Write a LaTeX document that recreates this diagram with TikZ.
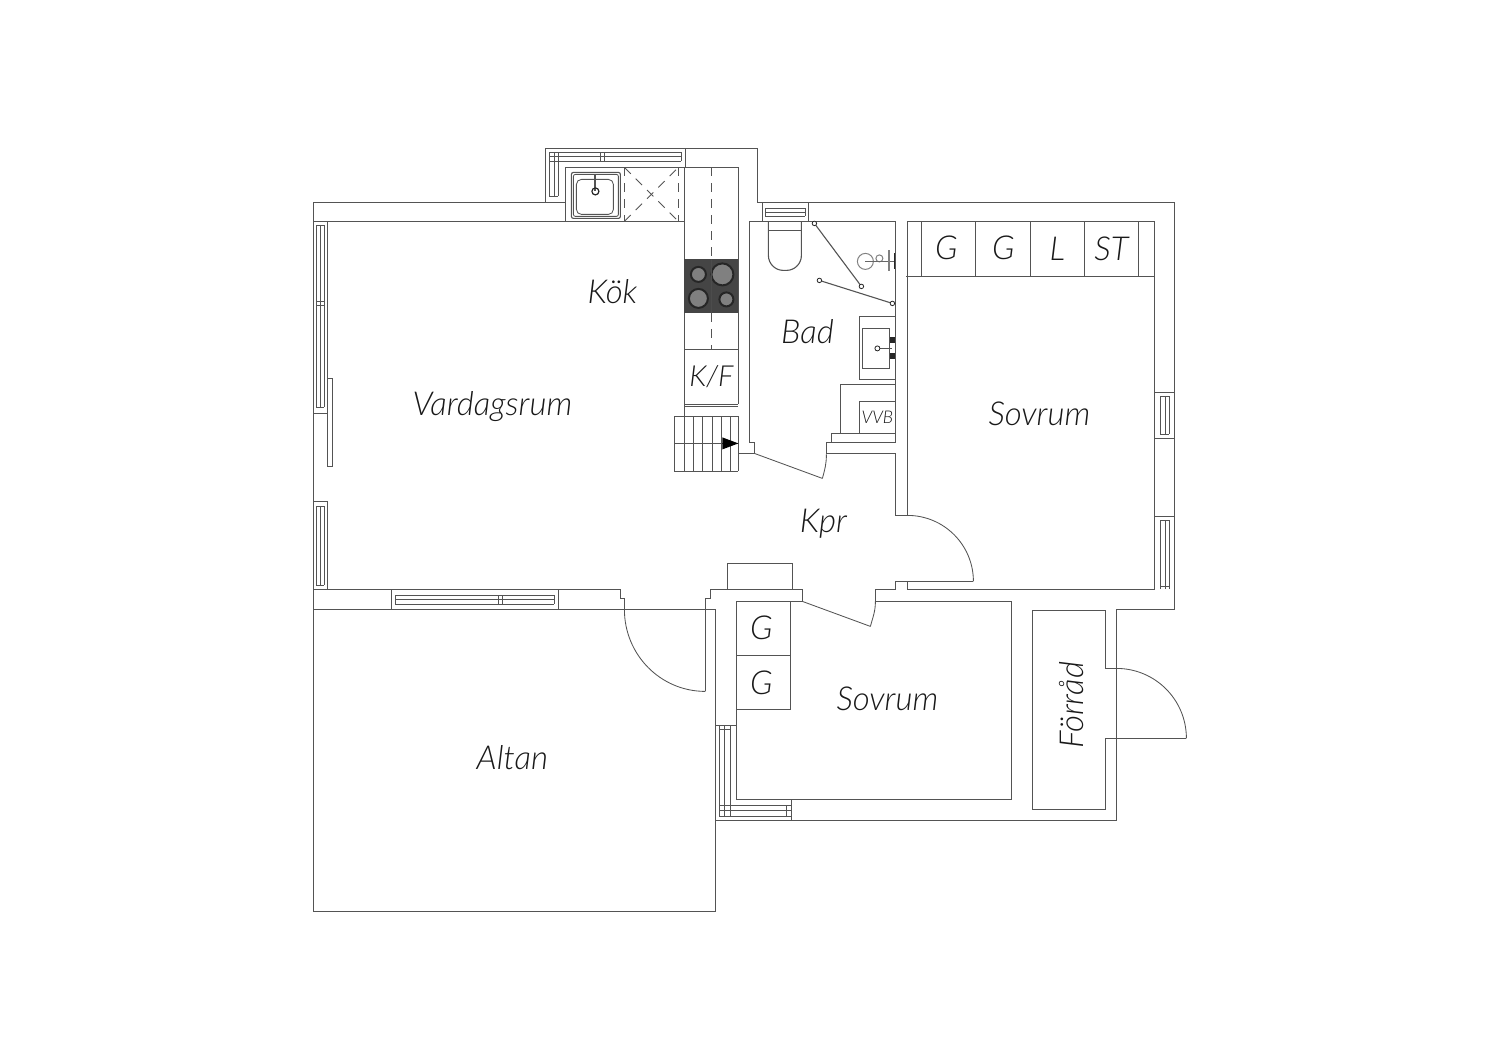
\documentclass[tikz,border=0pt]{standalone}
\usepackage{fontspec}
\setmainfont{Lato}[ItalicFont=* Light Italic]
\definecolor{wallcol}{gray}{0.33}
\definecolor{hobcol}{gray}{0.27}
\definecolor{ringcol}{gray}{0.5}
\tikzset{
  wall/.style = {draw=wallcol, line width=1.1pt},
  fine/.style = {draw=wallcol, line width=.85pt},
  dashline/.style = {draw=wallcol, line width=.85pt, dash pattern=on 9pt off 7pt},
  label/.style = {font=\itshape\fontsize{33}{33}\selectfont, text=black!90, inner sep=0pt},
  small label/.style = {label, font=\itshape\fontsize{17.5}{17.5}\selectfont},
  unit label/.style = {label, font=\itshape\fontsize{29}{29}\selectfont},
  burner/.style = {circle, draw=black!85, line width=2pt, fill=ringcol, inner sep=0pt},
  hinge/.style = {circle, draw=black!85, line width=.8pt, fill=white, minimum size=4.5pt, inner sep=0pt},
}
\begin{document}
\begin{tikzpicture}[x=1pt,y=-1pt]
    \useasboundingbox (.6,.6) rectangle (1500.6,1060.6);

    % outer walls
    \draw[wall] (546,203) -- (546,149) -- (758,149) -- (758,203) -- (1175,203) -- (1175,610) -- (1117,610) -- (1117,821) -- (716,821);
    \draw[wall] (546,203) -- (314,203) -- (314,912) -- (716,912) -- (716,610) -- (314,610);

    % vardagsrum and kitchen
    \draw[wall] (621,590) -- (314,590);
    \draw[wall] (328,590) -- (328,502) -- (314,502);
    \draw[wall] (314,414) -- (328,414) -- (328,222);
    \draw[wall] (314,222) -- (566,222) -- (566,168) -- (739,168) -- (739,405);
    \draw[wall] (566,222) -- (685,222);
    \draw[wall] (685,168) -- (685,417);
    \draw[wall] (685,350) -- (739,350);
    \draw[wall] (685,405) -- (739,405);
    \draw[fine] (685,407) -- (739,407);
    \draw[dashline] (712,168) -- (712,260);
    \draw[dashline] (712,314) -- (712,350);

    % hob
    \fill[hobcol] (685,260) rectangle (739,314);
    \node[burner, minimum size=15pt] (ringa) at (699,275) {};
    \node[burner, minimum size=22pt] (ringb) at (723,275) {};
    \node[burner, minimum size=19pt] (ringc) at (699,299) {};
    \node[burner, minimum size=14pt] (ringd) at (727,300) {};
    \draw[black!70, line width=.8pt] (712,260) -- (712,314);

    % sink
    \draw[wall, rounded corners=2pt] (572,173) rectangle (621,219);
    \draw[fine, rounded corners=2pt] (574,175) rectangle (619,217);
    \draw[fine, rounded corners=5pt] (577,180) rectangle (614,215);
    \draw[wall, line width=2pt] (596,176) -- (596,192);
    \node[draw=black!85, line width=1.2pt, circle, minimum size=7pt, inner sep=0pt] (drain) at (596,192) {};
    \draw[dashline] (625,168) -- (625,222);
    \draw[dashline] (679,168) -- (679,222);
    \draw[dashline] (625,222) -- (679,168);
    \draw[dashline] (625,168) -- (679,222);

    % stairs
    \foreach \x in {675,685,694,703,713,722,731,739}
        \draw[fine] (\x,417) -- (\x,472);
    \foreach \y in {417,444,472}
        \draw[fine] (675,\y) -- (739,\y);
    \fill[black] (723,438) -- (739,444) -- (723,450) -- cycle;

    % bad
    \draw[wall] (739,454) -- (755,454) -- (755,443) -- (750,443) -- (750,222) -- (896,222) -- (896,443) -- (827,443) -- (827,455);
    \draw[wall] (827,454) -- (896,454) -- (896,516) -- (908,516) -- (908,222);
    \draw[fine] (755,454) -- (823,479);
    \draw[fine] (823,479) to[out=75,in=-90] (827,455);
    \draw[wall] (832,443) -- (832,434) -- (896,434);
    \draw[wall] (841,434) -- (841,385) -- (896,385);
    \draw[wall] (860,434) -- (860,402) -- (896,402);
    \draw[wall] (860,317) rectangle (896,380);
    \draw[fine] (863,329) rectangle (890,369);
    \draw[wall] (878,349) -- (893,349);
    \node[hinge, minimum size=5pt] (tap) at (878,349) {};
    \fill[black!85] (891,338) rectangle (896,344);
    \fill[black!85] (891,354) rectangle (896,360);

    % toilet
    \draw[wall] (769,222) -- (769,256) to[out=-90,in=180] (784,271) -- (787,271) to[out=0,in=-90] (802,256) -- (802,222);
    \draw[fine] (769,231) -- (802,231);

    % shower
    \draw[wall] (815,224) -- (862,287);
    \draw[wall] (820,281) -- (893,304);
    \node[hinge] (hingea) at (815,224) {};
    \node[hinge] (hingeb) at (862,287) {};
    \node[hinge] (hingec) at (820,281) {};
    \node[hinge] (hinged) at (893,304) {};
    \node[draw=ringcol, line width=1pt, circle, minimum size=16pt, inner sep=0pt] (head) at (866,262) {};
    \node[draw=ringcol, line width=1pt, circle, minimum size=7pt, inner sep=0pt] (knob) at (880,259) {};
    \draw[black!60, line width=1.6pt] (866,262) -- (895,262);
    \draw[ringcol, line width=2pt] (890,251) -- (890,272);
    \draw[black!85, line width=1.4pt] (895,254) -- (895,270);

    % sovrum top right
    \draw[wall] (908,222) -- (1155,222) -- (1155,590) -- (908,590) -- (908,582) -- (896,582) -- (896,590) -- (876,590) -- (876,602) -- (1012,602) -- (1012,800) -- (737,800) -- (737,602);
    \draw[wall] (907,277) -- (1155,277);
    \foreach \x in {922,976,1031,1085,1139}
        \draw[wall] (\x,222) -- (\x,277);
    \draw[fine] (908,582) -- (974,582);
    \draw[fine] (908,516) to[out=0,in=90] (974,582);

    % hall corner and wardrobes
    \draw[wall] (728,590) -- (728,564) -- (793,564) -- (793,590);
    \draw[wall] (706,692) -- (706,599) -- (711,599) -- (711,590) -- (803,590) -- (803,602) -- (737,602);
    \draw[wall] (737,602) -- (791,602) -- (791,710) -- (737,710);
    \draw[wall] (737,656) -- (791,656);
    \draw[fine] (803,602) -- (871,627);
    \draw[fine] (871,627) to[out=75,in=-90] (876,602);

    % door to altan
    \draw[wall] (621,590) -- (621,599) -- (625,599) -- (625,610);
    \draw[fine] (625,610) to[out=-90,in=180] (706,692);

    % door to forrad
    \draw[wall] (1106,611) -- (1033,611) -- (1033,810) -- (1106,810) -- (1106,739) -- (1187,739);
    \draw[wall] (1106,611) -- (1106,669) -- (1117,669);
    \draw[fine] (1117,669) to[out=0,in=90] (1187,739);

    % window left
    \foreach \x in {317,321,325} {
        \draw[fine] (\x,226) -- (\x,408);
        \draw[fine] (\x,507) -- (\x,586);
    }
    \foreach \y in {226,302,306,408,507,586}
        \draw[fine] (317,\y) -- (325,\y);
    \draw[fine] (328,379) rectangle (333,467);

    % window bottom
    \draw[wall] (392,590) -- (392,610);
    \draw[wall] (559,590) -- (559,610);
    \foreach \y in {596,600,605}
        \draw[fine] (396,\y) -- (555,\y);
    \foreach \x in {396,499,503,555}
        \draw[fine] (\x,596) -- (\x,605);

    % window right
    \draw[wall] (1155,393) -- (1175,393);
    \draw[wall] (1155,439) -- (1175,439);
    \draw[wall] (1155,517) -- (1175,517);
    \foreach \x in {1161,1166,1170} {
        \draw[fine] (\x,397) -- (\x,435);
        \draw[fine] (\x,521) -- (\x,590);
    }
    \foreach \y in {397,435,521,587}
        \draw[fine] (1161,\y) -- (1170,\y);

    % window bad
    \draw[wall] (763,222) -- (763,203);
    \draw[wall] (809,222) -- (809,203);
    \foreach \y in {209,213,217}
        \draw[fine] (766,\y) -- (806,\y);
    \foreach \x in {766,806}
        \draw[fine] (\x,209) -- (\x,217);

    % window kitchen
    \draw[wall] (566,203) -- (546,203);
    \draw[wall] (686,149) -- (686,168);
    \foreach \y in {153,157,162}
        \draw[fine] (550,\y) -- (682,\y);
    \foreach \x in {550,555,559}
        \draw[fine] (\x,153) -- (\x,197);
    \draw[fine] (550,197) -- (559,197);
    \draw[fine] (550,162) -- (559,162);
    \foreach \x in {601,605,682}
        \draw[fine] (\x,153) -- (\x,162);

    % window sovrum bottom
    \draw[wall] (716,726) -- (737,726);
    \draw[wall] (792,800) -- (792,821);
    \foreach \x in {720,725,731}
        \draw[fine] (\x,726) -- (\x,817);
    \foreach \y in {806,811,817}
        \draw[fine] (720,\y) -- (792,\y);
    \draw[fine] (720,730) -- (731,730);
    \draw[fine] (787,806) -- (787,817);

    % room names
    \node[label] (kok) at (613,292) {Kök};
    \node[label] (vardagsrum) at (493,407) {Vardagsrum};
    \node[label] (bad) at (808,332) {Bad};
    \node[unit label] (kf) at (712,377) {K/F};
    \node[small label] (vvb) at (878,418) {VVB};
    \node[label] (kpr) at (824,524) {Kpr};
    \node[label] (sovrumn) at (1040,414) {Sovrum};
    \node[label] (sovrums) at (888,699) {Sovrum};
    \node[label] (altan) at (513,758) {Altan};
    \node[label, rotate=90] (forrad) at (1072,706) {Förråd};
    \node[label] (ga) at (947,248) {G};
    \node[label] (gb) at (1004,248) {G};
    \node[label] (l) at (1058,249) {L};
    \node[label] (st) at (1112,249) {ST};
    \node[label] (gc) at (762,628) {G};
    \node[label] (gd) at (762,683) {G};
\end{tikzpicture}
\end{document}
